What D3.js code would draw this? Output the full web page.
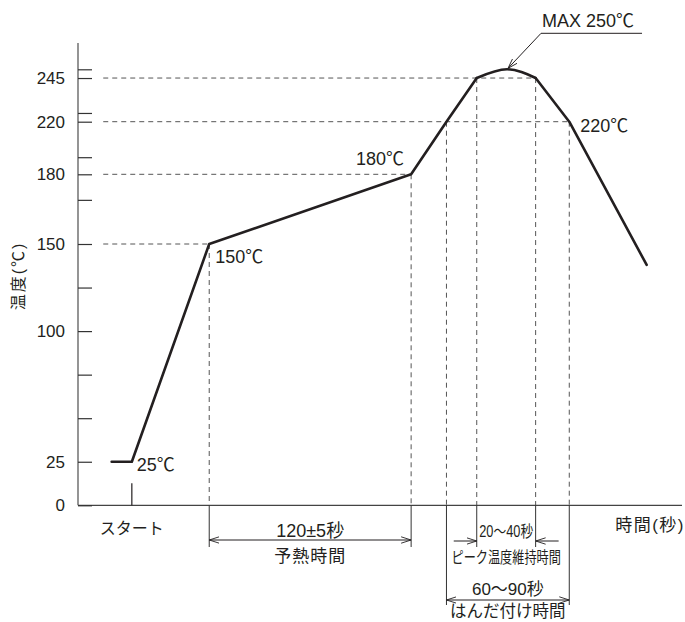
<!DOCTYPE html>
<html>
<head>
<meta charset="utf-8">
<script src="https://cdn.jsdelivr.net/npm/d3@7"></script>
<style>
  body { margin: 0; background: #fff; }
  text { font-family: "Liberation Sans", Arial, "Noto Sans CJK JP", sans-serif; fill: #231f20; }
</style>
</head>
<body>
<svg id="chart" width="685" height="622"></svg>
<script>
// temperature profile (time in seconds, schematic)
const riseTime = [-12, 0, 46, 166, 187, 205];
const riseTemp = [25, 25, 150, 180, 220, 245];
const peakTime = [205, 223, 240];
const peakTemp = [245, 250, 245];
const fallTime = [240, 260, 306];
const fallTemp = [245, 220, 138];

// y ticks
const yLabelTicks = [0, 25, 100, 150, 180, 220, 245];
const yMinorTicks = [50, 75, 125, 169, 193, 225, 250];

// guide lines: temperature level and the time where the curve meets it
const guideTemp = [150, 180, 220, 245, 245, 220];
const guideTime = [46, 166, 187, 205, 240, 260];

// spans under the axis
const preheatSpan = [46, 166];
const peakSpan = [205, 240];
const solderSpan = [187, 260];

const svg = d3.select("#chart");

const x = d3.scaleLinear().domain([-32, 327]).range([78, 682]);
const y = d3.scaleLinear()
    .domain([0, 150, 180, 220, 250])
    .range([505.3, 244, 174.3, 121.7, 69.3]);

const ink = "#231f20";

// arrow marker
svg.append("defs").append("marker")
    .attr("id", "arr")
    .attr("viewBox", "0 -5 10 10")
    .attr("refX", 10).attr("refY", 0)
    .attr("markerUnits", "userSpaceOnUse")
    .attr("markerWidth", 10).attr("markerHeight", 10)
    .attr("orient", "auto-start-reverse")
    .append("path")
    .attr("d", "M0,-3.2L10,0L0,3.2")
    .attr("fill", "none")
    .attr("stroke", ink)
    .attr("stroke-width", 0.9);

// dashed guides
const guides = svg.append("g")
    .attr("stroke", "#555")
    .attr("stroke-width", 1)
    .attr("stroke-dasharray", "5,4");

// horizontal guides run from the axis to the last point on each level
const hIdx = [0, 1, 4, 5];
guides.selectAll("line.h").data(hIdx)
    .join("line")
    .attr("class", "h")
    .attr("x1", x(-17)).attr("x2", i => x(guideTime[i]))
    .attr("y1", i => y(guideTemp[i])).attr("y2", i => y(guideTemp[i]));

guides.selectAll("line.v").data(d3.range(guideTemp.length))
    .join("line")
    .attr("class", "v")
    .attr("x1", i => x(guideTime[i])).attr("x2", i => x(guideTime[i]))
    .attr("y1", i => y(guideTemp[i])).attr("y2", y(0));

// axes
svg.append("line")
    .attr("x1", x(-32)).attr("x2", x(-32))
    .attr("y1", y(0)).attr("y2", y(265))
    .attr("stroke", "#7a7a7a").attr("stroke-width", 1.6);

svg.append("line")
    .attr("x1", x(-32)).attr("x2", x(327))
    .attr("y1", y(0)).attr("y2", y(0))
    .attr("stroke", "#444").attr("stroke-width", 1.3);

const yAxis = svg.append("g")
    .attr("transform", `translate(${x(-32)},0)`)
    .call(d3.axisLeft(y)
        .tickValues(yLabelTicks.concat(yMinorTicks))
        .tickSize(-14)
        .tickPadding(13)
        .tickFormat(d => yLabelTicks.includes(d) ? d : ""));
yAxis.select(".domain").remove();
yAxis.selectAll(".tick line").attr("stroke", "#333").attr("stroke-width", 1.2);
yAxis.selectAll(".tick text")
    .attr("font-size", 17)
    .attr("fill", ink)
    .style("font-family", "'Liberation Sans', Arial, sans-serif");

// start tick
svg.append("line")
    .attr("x1", x(0)).attr("x2", x(0))
    .attr("y1", y(0)).attr("y2", y(0) - 22)
    .attr("stroke", ink).attr("stroke-width", 1.2);

// profile curve
const line = d3.line().x(d => x(d[0])).y(d => y(d[1]));
const curve = svg.append("g")
    .attr("fill", "none")
    .attr("stroke", ink)
    .attr("stroke-width", 2.6)
    .attr("stroke-linejoin", "round")
    .attr("stroke-linecap", "round");

curve.append("path").attr("d", line(d3.zip(riseTime, riseTemp)));
curve.append("path").attr("d", line.curve(d3.curveNatural)(d3.zip(peakTime, peakTemp)));
curve.append("path").attr("d", line.curve(d3.curveLinear)(d3.zip(fallTime, fallTemp)));

// point labels
function label(px, py, str, size, anchor) {
    return svg.append("text")
        .attr("x", px).attr("y", py)
        .attr("font-size", size)
        .attr("text-anchor", anchor || "start")
        .text(str);
}

label(x(0) + 5, y(25) + 9, "25℃", 18);
label(x(46) + 6, y(150) + 19, "150℃", 18);
label(x(166) - 7, y(180) - 9, "180℃", 18, "end");
label(x(260) + 11, y(220) + 10, "220℃", 18);

// MAX leader
const tip = [x(223) + 1, y(250) - 1];
const elbow = [tip[0] + 33, tip[1] - 35];
svg.append("path")
    .attr("d", `M${elbow[0] + 101},${elbow[1]}H${elbow[0]}L${tip[0]},${tip[1]}`)
    .attr("fill", "none")
    .attr("stroke", ink)
    .attr("stroke-width", 1)
    .attr("marker-end", "url(#arr)");
label(elbow[0] + 1, elbow[1] - 6, "MAX 250℃", 18);

// axis titles
svg.append("text")
    .attr("transform", "translate(24,276) rotate(-90)")
    .attr("font-size", 16)
    .attr("letter-spacing", 2)
    .attr("text-anchor", "middle")
    .text("温度(℃)");

label(x(0), 534, "スタート", 16, "middle");
label(685, 531, "時間(秒)", 17, "end").attr("letter-spacing", 1.5);

// extension lines below the axis
const ext = svg.append("g").attr("stroke", "#333").attr("stroke-width", 1);
[preheatSpan[0], preheatSpan[1], peakSpan[0], peakSpan[1]].forEach(t => {
    ext.append("line").attr("x1", x(t)).attr("x2", x(t)).attr("y1", y(0)).attr("y2", 547);
});
[solderSpan[0], solderSpan[1]].forEach(t => {
    ext.append("line").attr("x1", x(t)).attr("x2", x(t)).attr("y1", y(0)).attr("y2", 605);
});

// dimension lines
function dim(x1, x2, yy, both) {
    const l = svg.append("line")
        .attr("x1", x1).attr("x2", x2)
        .attr("y1", yy).attr("y2", yy)
        .attr("stroke", ink).attr("stroke-width", 1)
        .attr("marker-end", "url(#arr)");
    if (both) l.attr("marker-start", "url(#arr)");
}

dim(x(preheatSpan[0]), x(preheatSpan[1]), 540, true);
dim(x(peakSpan[0]) - 23, x(peakSpan[0]), 541, false);
dim(x(peakSpan[1]) + 23, x(peakSpan[1]), 541, false);
dim(x(solderSpan[0]), x(solderSpan[1]), 600, true);

const midPre = (x(preheatSpan[0]) + x(preheatSpan[1])) / 2;
const midPeak = (x(peakSpan[0]) + x(peakSpan[1])) / 2;
const midSol = (x(solderSpan[0]) + x(solderSpan[1])) / 2;

label(midPre, 537, "120±5秒", 18, "middle");
label(midPre, 562, "予熱時間", 17, "middle").attr("letter-spacing", 1);

svg.append("text")
    .attr("transform", `translate(${midPeak},536.5) scale(0.8,1)`)
    .attr("font-size", 16).attr("text-anchor", "middle")
    .text("20〜40秒");
svg.append("text")
    .attr("transform", `translate(${midPeak},563) scale(0.76,1)`)
    .attr("font-size", 16).attr("text-anchor", "middle")
    .text("ピーク温度維持時間");

label(midSol, 595, "60〜90秒", 17, "middle");
label(midSol, 617, "はんだ付け時間", 16.5, "middle");
</script>
</body>
</html>
